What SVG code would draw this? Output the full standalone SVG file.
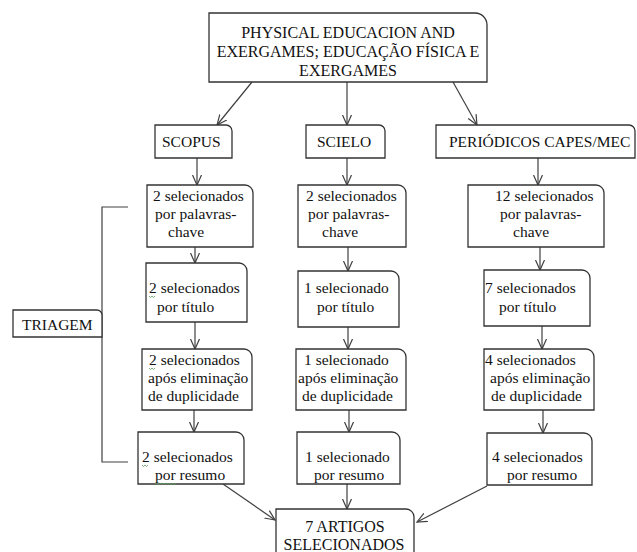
<svg xmlns="http://www.w3.org/2000/svg" width="637" height="552" viewBox="0 0 637 552">
<defs>
<style>
.box{fill:#fff;stroke:#333;stroke-width:1.3}
.t{font-family:"Liberation Serif","Times New Roman",serif;font-size:15.5px;fill:#111}
.tt{font-family:"Liberation Serif","Times New Roman",serif;font-size:16px;fill:#111;text-anchor:middle}
.c{fill:none;stroke:#404040;stroke-width:1.2}
.sq{fill:none;stroke:#5aa05a;stroke-width:0.8}
</style>
<marker id="ah" markerUnits="userSpaceOnUse" markerWidth="12" markerHeight="12" refX="10" refY="5" orient="auto" viewBox="0 0 12 10">
<path d="M0,0.5 L10,5 L0,9.5" fill="none" stroke="#404040" stroke-width="1.2"/>
</marker>
</defs>
<rect width="637" height="552" fill="#fff"/>

<g id="connectors">
<line class="c" x1="252" y1="82" x2="217" y2="125" marker-end="url(#ah)"/>
<line class="c" x1="347" y1="82" x2="347" y2="125" marker-end="url(#ah)"/>
<line class="c" x1="453" y1="82" x2="477" y2="125" marker-end="url(#ah)"/>
<line class="c" x1="197" y1="158" x2="197" y2="185" marker-end="url(#ah)"/>
<line class="c" x1="347" y1="158" x2="347" y2="185" marker-end="url(#ah)"/>
<line class="c" x1="538" y1="158" x2="538" y2="185" marker-end="url(#ah)"/>
<line class="c" x1="195" y1="247" x2="195" y2="263" marker-end="url(#ah)"/>
<line class="c" x1="348" y1="247" x2="348" y2="271" marker-end="url(#ah)"/>
<line class="c" x1="540" y1="247" x2="540" y2="270" marker-end="url(#ah)"/>
<line class="c" x1="195" y1="322" x2="195" y2="349" marker-end="url(#ah)"/>
<line class="c" x1="348" y1="327" x2="348" y2="349" marker-end="url(#ah)"/>
<line class="c" x1="542" y1="326" x2="542" y2="349" marker-end="url(#ah)"/>
<line class="c" x1="194" y1="410" x2="194" y2="432" marker-end="url(#ah)"/>
<line class="c" x1="349" y1="410" x2="349" y2="432" marker-end="url(#ah)"/>
<line class="c" x1="543" y1="410" x2="543" y2="433" marker-end="url(#ah)"/>
<line class="c" x1="223" y1="484" x2="275" y2="520" marker-end="url(#ah)"/>
<line class="c" x1="347" y1="484" x2="347" y2="509" marker-end="url(#ah)"/>
<line class="c" x1="487" y1="486" x2="417" y2="522" marker-end="url(#ah)"/>
<polyline class="c" points="128,207 102,207 102,462 128,462"/>
</g>

<g id="top">
<path class="box" d="M209,13 H475 A12,12 0 0 1 487,25 V82 H209 Z"/>
<text class="tt" x="348" y="38">PHYSICAL EDUCACION AND</text>
<text class="tt" x="348" y="57">EXERGAMES; EDUCAÇÃO FÍSICA E</text>
<text class="tt" x="348" y="76">EXERGAMES</text>
</g>

<g id="scopus">
<path class="box" d="M155,125 H226 A6,6 0 0 1 232,131 V158 H155 Z"/>
<text class="t" x="162" y="147">SCOPUS</text>
</g>
<g id="scielo">
<path class="box" d="M306,125 H379 A6,6 0 0 1 385,131 V158 H306 Z"/>
<text class="t" x="317" y="147">SCIELO</text>
</g>
<g id="capes">
<path class="box" d="M436,125 H629 A6,6 0 0 1 635,131 V158 H436 Z"/>
<text class="t" x="449" y="147">PERIÓDICOS CAPES/MEC</text>
</g>

<g id="scopus-palavras">
<path class="box" d="M147,185 H245 A8,8 0 0 1 253,193 V247 H147 Z"/>
<text class="t" x="153" y="201">2 selecionados</text>
<text class="t" x="155" y="219">por palavras-</text>
<text class="t" x="168" y="237">chave</text>
</g>
<g id="scielo-palavras">
<path class="box" d="M298,185 H398 A8,8 0 0 1 406,193 V247 H298 Z"/>
<text class="t" x="306" y="201">2 selecionados</text>
<text class="t" x="308" y="219">por palavras-</text>
<text class="t" x="322" y="237">chave</text>
</g>
<g id="capes-palavras">
<path class="box" d="M468,185 H596 A8,8 0 0 1 604,193 V247 H468 Z"/>
<text class="t" x="495" y="201">12 selecionados</text>
<text class="t" x="500" y="219">por palavras-</text>
<text class="t" x="513" y="237">chave</text>
</g>

<g id="scopus-titulo">
<path class="box" d="M146,263 H239 A8,8 0 0 1 247,271 V322 H146 Z"/>
<text class="t" x="149" y="293">2 selecionados</text>
<text class="t" x="157" y="312">por título</text>
<path class="sq" d="M149,296 l1.5,1.5 l1.5,-1.5 l1.5,1.5 l1.5,-1.5"/>
</g>
<g id="scielo-titulo">
<path class="box" d="M298,271 H391 A8,8 0 0 1 399,279 V327 H298 Z"/>
<text class="t" x="304" y="293">1 selecionado</text>
<text class="t" x="317" y="312">por título</text>
</g>
<g id="capes-titulo">
<path class="box" d="M484,270 H582 A8,8 0 0 1 590,278 V326 H484 Z"/>
<text class="t" x="485" y="293">7 selecionados</text>
<text class="t" x="499" y="312">por título</text>
</g>

<g id="scopus-dup">
<path class="box" d="M142,349 H244 A8,8 0 0 1 252,357 V410 H142 Z"/>
<text class="t" x="149" y="365">2 selecionados</text>
<text class="t" x="148" y="383">após eliminação</text>
<text class="t" x="148" y="401">de duplicidade</text>
<path class="sq" d="M149,368 l1.5,1.5 l1.5,-1.5 l1.5,1.5 l1.5,-1.5"/>
</g>
<g id="scielo-dup">
<path class="box" d="M296,349 H398 A8,8 0 0 1 406,357 V410 H296 Z"/>
<text class="t" x="304" y="365">1 selecionado</text>
<text class="t" x="298" y="383">após eliminação</text>
<text class="t" x="302" y="401">de duplicidade</text>
</g>
<g id="capes-dup">
<path class="box" d="M484,349 H586 A8,8 0 0 1 594,357 V410 H484 Z"/>
<text class="t" x="485" y="365">4 selecionados</text>
<text class="t" x="490" y="383">após eliminação</text>
<text class="t" x="491" y="401">de duplicidade</text>
</g>

<g id="scopus-resumo">
<path class="box" d="M138,432 H236 A8,8 0 0 1 244,440 V484 H138 Z"/>
<text class="t" x="142" y="462">2 selecionados</text>
<text class="t" x="155" y="480">por resumo</text>
<path class="sq" d="M142,465 l1.5,1.5 l1.5,-1.5 l1.5,1.5 l1.5,-1.5"/>
<path class="sq" d="M155,483 l1.5,1.5 l1.5,-1.5 l1.5,1.5 l1.5,-1.5 l1.5,1.5 l1.5,-1.5 l1.5,1.5 l1.5,-1.5 l1.5,1.5 l1.5,-1.5 l1.5,1.5 l1.5,-1.5 l1.5,1.5 l1.5,-1.5"/>
</g>
<g id="scielo-resumo">
<path class="box" d="M297,432 H392 A8,8 0 0 1 400,440 V484 H297 Z"/>
<text class="t" x="305" y="462">1 selecionado</text>
<text class="t" x="314" y="480">por resumo</text>
</g>
<g id="capes-resumo">
<path class="box" d="M487,433 H584 A8,8 0 0 1 592,441 V485 H487 Z"/>
<text class="t" x="492" y="462">4 selecionados</text>
<text class="t" x="507" y="480">por resumo</text>
</g>

<g id="final">
<path class="box" d="M276,509 H406 A8,8 0 0 1 414,517 V560 H276 Z"/>
<text class="tt" x="345" y="532">7 ARTIGOS</text>
<text class="tt" x="344" y="550">SELECIONADOS</text>
</g>

<g id="triagem">
<path class="box" d="M13,310 H97 A5,5 0 0 1 102,315 V337 H13 Z"/>
<text class="t" x="22" y="330">TRIAGEM</text>
</g>
</svg>
